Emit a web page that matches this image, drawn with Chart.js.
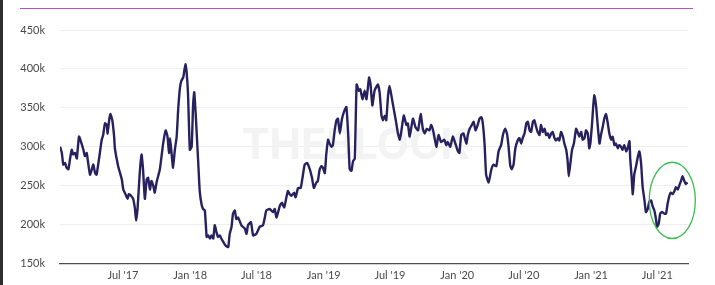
<!DOCTYPE html>
<html>
<head>
<meta charset="utf-8">
<script src="https://cdn.jsdelivr.net/npm/chart.js@4/dist/chart.umd.min.js"></script>
<style>
  html, body { margin: 0; padding: 0; background: #ffffff; }
  #wrap { position: relative; width: 715px; height: 285px; }
  canvas { display: block; }
</style>
</head>
<body>
<div id="wrap"><canvas id="c" width="715" height="285"></canvas></div>
<script>
// Days since 2017-01-01
const days = [
  9,14,18,23,27,32,36,41,45,50,55,61,68,73,77,82,86,91,96,100,105,109,114,118,123,127,132,137,139,144,147,152,157,159,168,178,182,188,194,197,203,209,214,217,221,227,232,236,241,246,250,255,259,264,268,273,282,291,298,303,307,310,314,318,323,328,332,337,341,346,348,352,355,359,364,369,373,376,380,387,391,396,400,405,
  410,414,419,423,428,432,437,441,446,451,455,460,464,469,473,478,482,487,491,496,505,514,519,523,531,537,546,555,564,569,573,582,592,596,601,610,616,622,628,632,637,642,649,653,660,667,672,678,685,692,698,703,710,714,719,724,728,733,737,742,746,751,755,760,765,769,774,780,787,792,797,801,806,810,815,820,
  826,830,836,842,847,854,858,863,869,878,883,888,892,897,901,906,910,915,919,927,933,938,942,949,956,960,965,974,981,988,995,1001,1006,1012,1019,1024,1030,1038,1044,1051,1060,1065,1069,1076,1083,1090,1097,1101,1106,1112,1120,1124,1129,1135,1140,1145,1151,1156,1161,1165,1170,1174,1181,1188,1194,1202,1208,1215,1220,1226,1231,1235,1240,1244,1249,1254,1261,1265,1270,1274,
  1279,1284,1288,1293,1297,1302,1306,1311,1315,1320,1324,1329,1334,1338,1343,1347,1352,1356,1361,1365,1370,1374,1379,1384,1388,1393,1397,1400,1405,1409,1414,1420,1424,1429,1434,1438,1443,1447,1452,1456,1459,1464,1467,1470,1475,1479,1484,1488,1493,1497,1502,1506,1511,1516,1520,1525,1529,1534,1538,1543,1547,1552,1557,1561,1566,1568,1572,1575,1579,1584,1588,1593,1598,1602,1607,1611,1616,1620,1625,1629,1634,1639,1641,1646,1650,1655,1661,1666,1670,1675,1679,1684,1689,1693,1698,1702,1707,1711,1716,1720,1725
];
// Values in thousands
const values = [
  300,292,277,279,273,271,283,296,290,292,285,313,304,296,288,292,279,264,271,277,266,264,279,292,309,315,330,328,317,336,342,334,313,298,275,258,245,239,233,239,237,233,220,205,220,266,290,271,233,258,260,245,256,250,241,254,271,304,321,313,292,311,292,273,296,313,347,376,385,389,395,406,397,368,296,300,355,370,342,279,243,226,220,218,
  184,186,182,186,182,199,190,184,186,181,178,174,172,171,188,197,214,218,207,209,199,195,188,199,203,186,188,197,199,209,218,220,216,220,209,224,228,222,235,243,239,237,241,235,247,247,260,277,279,271,260,247,254,256,271,275,273,266,290,309,304,300,302,321,334,336,317,336,347,351,315,271,269,281,285,380,
  372,374,361,372,361,389,380,353,372,380,369,340,334,340,334,366,378,366,355,334,317,309,319,340,328,330,313,336,325,321,342,323,317,323,321,328,319,300,315,306,309,302,306,300,313,304,294,292,315,317,304,315,323,328,332,321,328,336,338,330,302,264,254,270,277,275,294,302,315,323,317,302,276,271,277,298,309,311,304,311,
  317,330,332,321,319,332,334,325,319,315,328,319,323,315,317,311,317,319,311,308,311,308,319,313,304,296,281,262,281,296,304,323,319,313,319,309,311,321,317,298,304,332,353,366,351,328,304,315,326,336,342,332,317,309,313,302,304,298,302,300,296,302,294,298,307,285,260,239,264,275,285,294,277,248,231,216,220,229,231,224,218,205,197,201,214,216,214,214,226,237,241,239,243,248,245,250,256,262,256,252,254
];
const tickDays = [181, 365, 546, 730, 911, 1095, 1277, 1461, 1642];
const tickLabels = ["Jul '17", "Jan '18", "Jul '18", "Jan '19", "Jul '19", "Jan '20", "Jul '20", "Jan '21", "Jul '21"];
const yTicks = [150, 200, 250, 300, 350, 400, 450];
// Highlight ellipse (center day, center value, half-width in days, half-height in thousands)
const highlight = { day: 1683, value: 231, halfDays: 63, halfValue: 49 };

const points = days.map((d, i) => ({ x: d, y: values[i] }));

const decor = {
  id: 'decor',
  beforeDraw(chart) {
    const ctx = chart.ctx;
    ctx.save();
    ctx.fillStyle = '#ffffff';
    ctx.fillRect(0, 0, chart.width, chart.height);
    ctx.fillStyle = '#2e2e2e';
    ctx.fillRect(0, 0, 3, chart.height);
    ctx.strokeStyle = '#b94fcc';
    ctx.lineWidth = 1.2;
    ctx.beginPath();
    ctx.moveTo(20, 8.5);
    ctx.lineTo(693, 8.5);
    ctx.stroke();
    ctx.restore();
  },
  beforeDatasetsDraw(chart) {
    const ctx = chart.ctx;
    ctx.save();
    ctx.fillStyle = '#f3f3f3';
    ctx.font = 'bold 42px "Inter", "DejaVu Sans", sans-serif';
    ctx.textAlign = 'center';
    ctx.textBaseline = 'middle';
    ctx.fillText('THEBLOCK', 356, 146);
    ctx.restore();
  },
  afterDatasetsDraw(chart) {
    const xs = chart.scales.x, ys = chart.scales.y;
    const cx = xs.getPixelForValue(highlight.day);
    const cy = ys.getPixelForValue(highlight.value);
    const rx = Math.abs(xs.getPixelForValue(highlight.day + highlight.halfDays) - cx);
    const ry = Math.abs(ys.getPixelForValue(highlight.value + highlight.halfValue) - cy);
    const ctx = chart.ctx;
    ctx.save();
    ctx.strokeStyle = '#3dbb4f';
    ctx.lineWidth = 1.3;
    ctx.beginPath();
    ctx.ellipse(cx, cy, rx, ry, 0, 0, Math.PI * 2);
    ctx.stroke();
    ctx.restore();
  }
};

new Chart(document.getElementById('c'), {
  type: 'line',
  data: {
    datasets: [{
      data: points,
      borderColor: '#27215f',
      borderWidth: 2.4,
      pointRadius: 0,
      tension: 0.15,
      borderJoinStyle: 'round',
      fill: false
    }]
  },
  options: {
    responsive: false,
    animation: false,
    layout: { padding: { left: 0, right: 27, top: 30, bottom: 0 } },
    plugins: { legend: { display: false }, tooltip: { enabled: false } },
    scales: {
      x: {
        type: 'linear',
        min: 9,
        max: 1726,
        afterBuildTicks(scale) { scale.ticks = tickDays.map(v => ({ value: v })); },
        afterFit(scale) { scale.height = 18; },
        grid: { display: false, drawTicks: false },
        border: { display: true, color: '#4d4d4d', width: 1.2 },
        ticks: {
          padding: 5,
          autoSkip: false,
          maxRotation: 0,
          color: '#4a4a4a',
          font: { family: 'Lato, "Open Sans", sans-serif', size: 11 },
          callback(v) { const i = tickDays.indexOf(v); return i >= 0 ? tickLabels[i] : ''; }
        }
      },
      y: {
        min: 150,
        max: 450,
        afterBuildTicks(scale) { scale.ticks = yTicks.map(v => ({ value: v })); },
        afterFit(scale) { scale.width = 60; },
        grid: { color: '#eeeeee', lineWidth: 1, drawTicks: false },
        border: { display: false },
        ticks: {
          padding: 15,
          color: '#4a4a4a',
          font: { family: 'Lato, "Open Sans", sans-serif', size: 11 },
          callback(v) { return v + 'k'; }
        }
      }
    }
  },
  plugins: [decor]
});
</script>
</body>
</html>
